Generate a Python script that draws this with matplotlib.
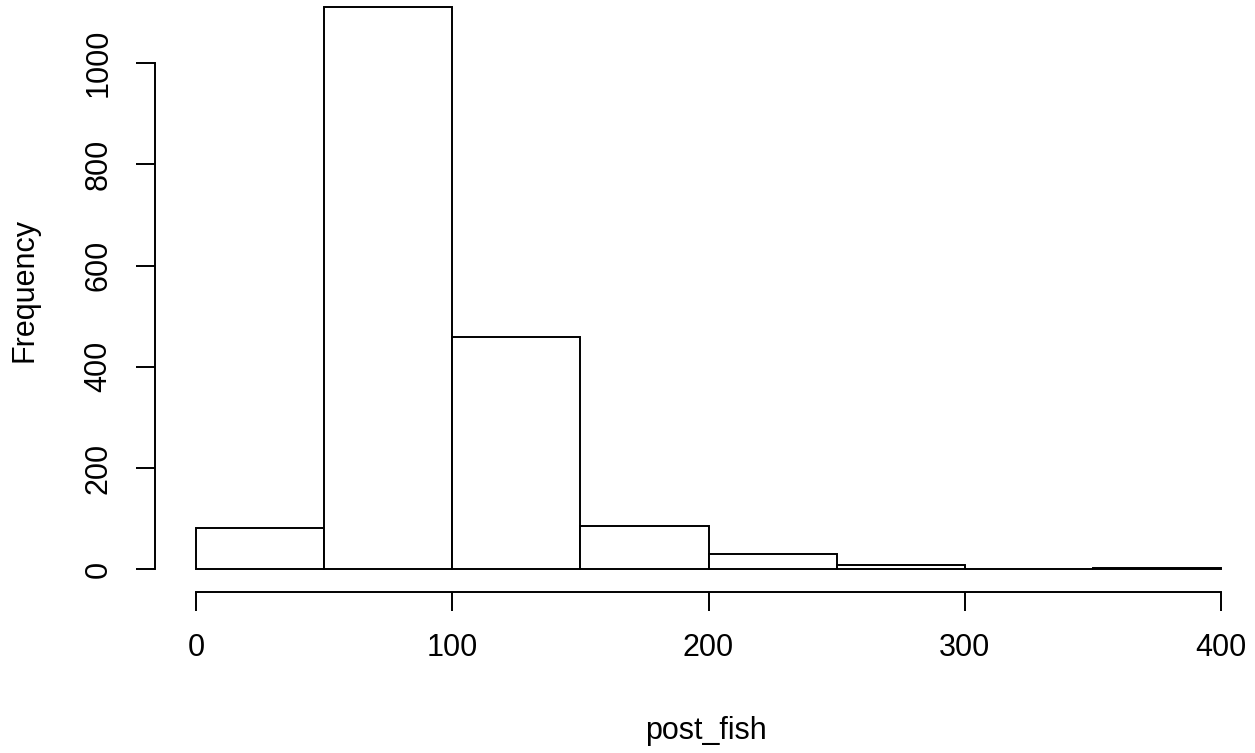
import matplotlib
matplotlib.use("Agg")
import matplotlib.pyplot as plt

bin_edges = [0, 50, 100, 150, 200, 250, 300, 350, 400]
counts = [82, 1111, 459, 85, 30, 8, 0, 2]
x_ticks = [0, 100, 200, 300, 400]
y_ticks = [0, 200, 400, 600, 800, 1000]
x_label = "post_fish"
y_label = "Frequency"

plt.rcParams['font.family'] = ['Liberation Sans', 'DejaVu Sans']

W, H = 1255, 753
fig = plt.figure(figsize=(W / 100, H / 100), dpi=100)

left_px, right_px = 155.3, 1261.7
top_px, bottom_px = -15.7, 591.8
ax = fig.add_axes([left_px / W, (H - bottom_px) / H,
                   (right_px - left_px) / W, (bottom_px - top_px) / H])
ax.set_xlim(-16, 416)
ax.set_ylim(-44.44, 1155.5)

widths = [bin_edges[i + 1] - bin_edges[i] for i in range(len(counts))]
ax.bar(bin_edges[:-1], counts, width=widths, align='edge', color='white',
       edgecolor='black', linewidth=1.4, clip_on=False)

for s in ['top', 'right']:
    ax.spines[s].set_visible(False)
ax.spines['bottom'].set_bounds(0, 400)
ax.spines['left'].set_bounds(0, 1000)
for s in ['bottom', 'left']:
    ax.spines[s].set_linewidth(1.4)
ax.set_xticks(x_ticks)
ax.set_yticks(y_ticks)
ax.set_yticklabels([str(v) for v in y_ticks], rotation=90, va='center')
ax.tick_params(axis='both', length=14, width=1.4, labelsize=22, pad=16)
ax.patch.set_alpha(0)

fig.text(706 / W, 1 - 731 / H, x_label, ha='center', va='center', fontsize=22)
fig.text(24 / W, 1 - 290 / H, y_label, ha='center', va='center', fontsize=22,
         rotation=90)

fig.savefig("out.png", dpi=100)
